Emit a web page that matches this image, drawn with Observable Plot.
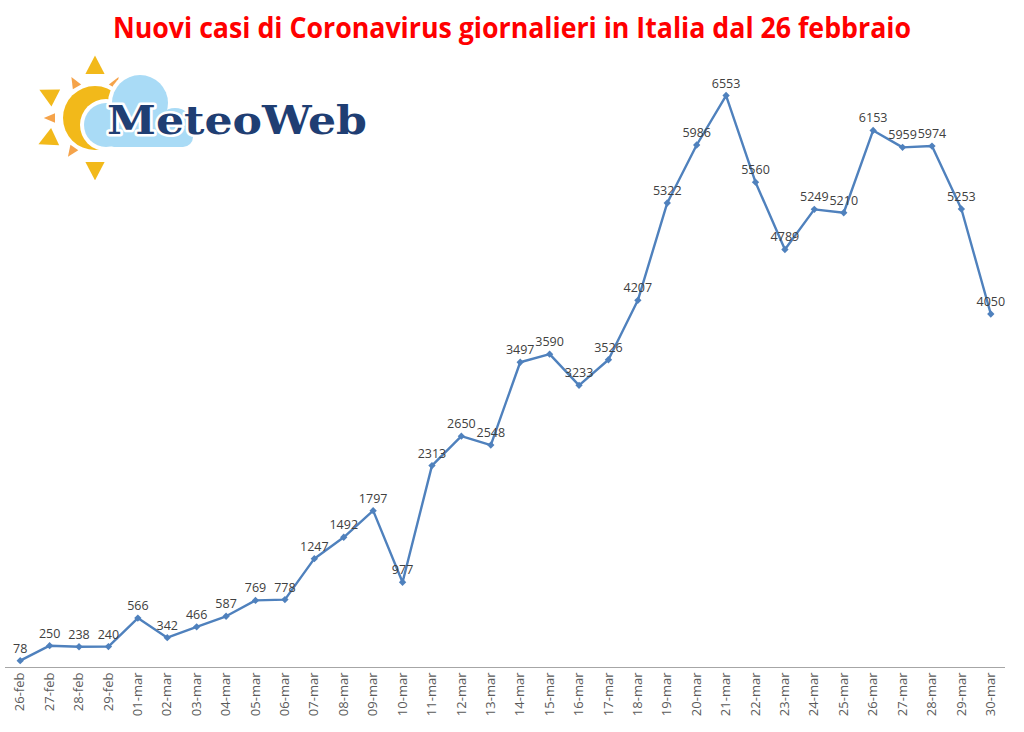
<!DOCTYPE html>
<html>
<head>
<meta charset="utf-8">
<script src="https://cdn.jsdelivr.net/npm/d3@7"></script>
<script src="https://cdn.jsdelivr.net/npm/@observablehq/plot@0.6"></script>
<style>
  html, body { margin: 0; padding: 0; background: #fff; }
  #page { position: relative; width: 1024px; height: 732px; overflow: hidden; }
  #title { height: 50px; line-height: 54px; text-align: center; white-space: nowrap;
           font-family: "Open Sans", sans-serif; font-weight: bold; font-size: 28px; color: #ff0000; }
  #title span { display: inline-block; transform-origin: center; }
  #logo { position: absolute; left: 0; top: 0; pointer-events: none; }
</style>
</head>
<body>
<div id="page">
  <div id="title"><span id="titletext">Nuovi casi di Coronavirus giornalieri in Italia dal 26 febbraio</span></div>
  <div id="chart"></div>
  <svg id="logo" width="400" height="180" viewBox="0 0 400 180">
    <g id="rays"></g>
    <circle cx="95" cy="118" r="34" fill="#fff"/>
    <circle cx="95" cy="118" r="32" fill="#f2b91a"/>
    <g fill="#fff">
      <circle cx="140" cy="103" r="32"/>
      <circle cx="106" cy="125" r="26"/>
      <circle cx="175" cy="126" r="22"/>
      <rect x="100" y="118" width="97" height="33" rx="12"/>
    </g>
    <g fill="#a9dbf6">
      <circle cx="140" cy="103" r="28"/>
      <circle cx="106" cy="125" r="22"/>
      <circle cx="175" cy="126" r="18"/>
      <rect x="104" y="120" width="89" height="27" rx="10"/>
    </g>
    <text x="107" y="134" textLength="260" lengthAdjust="spacingAndGlyphs"
          font-family="DejaVu Serif, serif" font-weight="bold" font-size="40"
          fill="#1f3e73" stroke="#fff" stroke-width="5" paint-order="stroke" stroke-linejoin="round">MeteoWeb</text>
  </svg>
</div>
<script>
const dates = ["26-feb","27-feb","28-feb","29-feb",
  "01-mar","02-mar","03-mar","04-mar","05-mar","06-mar","07-mar","08-mar","09-mar","10-mar",
  "11-mar","12-mar","13-mar","14-mar","15-mar","16-mar","17-mar","18-mar","19-mar","20-mar",
  "21-mar","22-mar","23-mar","24-mar","25-mar","26-mar","27-mar","28-mar","29-mar","30-mar"];
const cases = [78, 250, 238, 240,
  566, 342, 466, 587, 769, 778, 1247, 1492, 1797, 977,
  2313, 2650, 2548, 3497, 3590, 3233, 3526, 4207, 5322, 5986,
  6553, 5560, 4789, 5249, 5210, 6153, 5959, 5974, 5253, 4050];

const data = dates.map((d, i) => ({date: d, cases: cases[i]}));

const chart = Plot.plot({
  width: 1024,
  height: 682,
  marginLeft: 5,
  marginRight: 19,
  marginTop: 6,
  marginBottom: 65,
  style: {fontFamily: "'Open Sans', sans-serif", fontSize: "13px", color: "#595959", background: "transparent"},
  x: {type: "point", domain: dates, padding: 0.5, round: false, label: null, tickRotate: -90, tickSize: 0, tickPadding: 5},
  y: {domain: [0, 7000], axis: null},
  marks: [
    Plot.ruleY([0], {stroke: "#a6a6a6", strokeWidth: 1.2}),
    Plot.line(data, {x: "date", y: "cases", stroke: "#4f81bd", strokeWidth: 2.4}),
    Plot.dot(data, {x: "date", y: "cases", symbol: "diamond2", r: 3.3, fill: "#4f81bd", stroke: "none"}),
    Plot.text(data, {x: "date", y: "cases", text: d => String(d.cases), lineAnchor: "bottom", dy: -8,
                     fill: "#404040", fontSize: 12.5})
  ]
});
document.getElementById("chart").appendChild(chart);

// rays of the sun in the logo (decoration)
const rays = document.getElementById("rays");
const rayDefs = [[-90, 48, 12, "#f2b91a"], [-60, 40, 6, "#f5a34a"], [-120, 40, 6, "#f5a34a"],
                 [-153, 48, 12, "#f2b91a"], [180, 44, 6, "#f5a34a"], [155, 48, 12, "#f2b91a"],
                 [125, 40, 6, "#f5a34a"], [90, 48, 12, "#f2b91a"]];
for (const [ang, dist, size, col] of rayDefs) {
  const a = ang * Math.PI / 180;
  const cx = 95, cy = 118;
  const tip = [cx + Math.cos(a) * (dist + size * 1.2), cy + Math.sin(a) * (dist + size * 1.2)];
  const bx = cx + Math.cos(a) * (dist - 4), by = cy + Math.sin(a) * (dist - 4);
  const px = -Math.sin(a) * size * 0.8, py = Math.cos(a) * size * 0.8;
  const p = document.createElementNS("http://www.w3.org/2000/svg", "polygon");
  p.setAttribute("points", `${tip[0]},${tip[1]} ${bx + px},${by + py} ${bx - px},${by - py}`);
  p.setAttribute("fill", col);
  rays.appendChild(p);
}

// fit title width
const t = document.getElementById("titletext");
const w = t.getBoundingClientRect().width;
t.style.transform = `scaleX(${798 / w})`;
</script>
</body>
</html>
